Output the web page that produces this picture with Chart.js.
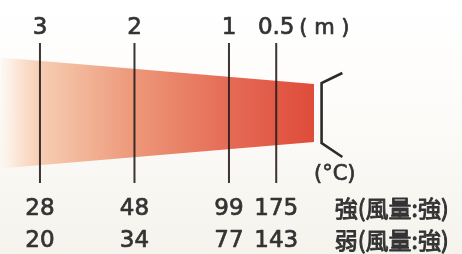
<!DOCTYPE html>
<html>
<head>
<meta charset="utf-8">
<script src="https://cdn.jsdelivr.net/npm/chart.js@4.4.0/dist/chart.umd.min.js"></script>
<style>
  html, body { margin: 0; padding: 0; background: #ffffff; }
  #wrap { width: 462px; height: 254px; position: relative; }
</style>
</head>
<body>
<div id="wrap"><canvas id="c" width="462" height="254"></canvas></div>
<script>
// ---- data (distance from heater in metres, heights in arbitrary diagram units) ----
const distances = [3, 2, 1, 0.5];
const distanceLabels = ['3', '2', '1', '0.5'];
const distanceUnit = '( m )';
const tempStrong = [28, 48, 99, 175];
const tempWeak = [20, 34, 77, 143];
const tempUnit = '(°C)';
const rowLabels = ['強(風量:強)', '弱(風量:強)'];

// heat beam: distance and half-width at each end
const beamDist = [3.42, 0.1];
const beamHalfWidth = [55.5, 29];
// marker line half-height
const markerHalf = 70;
// heater bracket outline
const heaterDist = [-0.2, 0.02, 0.02, -0.2];
const heaterHeight = [40, 30, -30, -44];

const textColor = '#333333';
const numFont = '23px "DejaVu Sans", sans-serif';
const cjkFont = '23px "Noto Sans CJK JP", sans-serif';

const beamTop = beamDist.map((d, i) => ({ x: d, y: beamHalfWidth[i] }));
const beamBottom = beamDist.map((d, i) => ({ x: d, y: -beamHalfWidth[i] }));

function beamGradient(ctx) {
  const chart = ctx.chart;
  const xs = chart.scales.x;
  if (!chart.chartArea || !xs) return 'rgba(230,100,80,0.8)';
  const x0 = xs.getPixelForValue(beamDist[0]);
  const x1 = xs.getPixelForValue(beamDist[1]);
  const g = chart.ctx.createLinearGradient(x0, 0, x1, 0);
  g.addColorStop(0, 'rgba(253,244,236,0.5)');
  g.addColorStop(0.06, '#fbe3d3');
  g.addColorStop(0.13, '#f6cdb3');
  g.addColorStop(0.43, '#ed9778');
  g.addColorStop(0.73, '#e56b56');
  g.addColorStop(1, '#df4c3a');
  return g;
}

const datasets = [
  { data: beamTop, borderWidth: 0, pointRadius: 0, fill: '+1', backgroundColor: beamGradient, order: 10 },
  { data: beamBottom, borderWidth: 0, pointRadius: 0, fill: false, order: 11 },
];
distances.forEach(d => {
  datasets.push({
    data: [{ x: d, y: markerHalf }, { x: d, y: -markerHalf }],
    borderColor: 'rgba(40,30,30,0.9)', borderWidth: 2, pointRadius: 0, fill: false, order: 1
  });
});
datasets.push({
  data: heaterDist.map((d, i) => ({ x: d, y: heaterHeight[i] })),
  borderColor: '#2b2b2b', borderWidth: 2.6, pointRadius: 0, fill: false, order: 1,
  borderJoinStyle: 'miter'
});

const bgPlugin = {
  id: 'bg',
  beforeDraw(chart) {
    const c = chart.ctx;
    const g = c.createLinearGradient(0, 0, 0, chart.height);
    g.addColorStop(0, '#ffffff');
    g.addColorStop(0.4, '#fdfcfa');
    g.addColorStop(1, '#f5f3ec');
    c.save();
    c.fillStyle = g;
    c.fillRect(0, 0, chart.width, chart.height);
    c.restore();
  }
};

function boldText(c, txt, x, y) {
  c.fillText(txt, x, y);
  c.strokeText(txt, x, y);
}

const labelPlugin = {
  id: 'labels',
  afterDraw(chart) {
    const c = chart.ctx;
    const xs = chart.scales.x, ys = chart.scales.y;
    c.save();
    c.fillStyle = textColor;
    c.strokeStyle = textColor;
    c.lineWidth = 0.7;
    c.lineJoin = 'round';
    c.textBaseline = 'alphabetic';
    c.font = numFont;
    c.textAlign = 'center';
    const yTop = ys.getPixelForValue(79);
    const yRow1 = ys.getPixelForValue(-102);
    const yRow2 = ys.getPixelForValue(-134);
    distances.forEach((d, i) => {
      const px = xs.getPixelForValue(d);
      boldText(c, distanceLabels[i], px, yTop);
      boldText(c, String(tempStrong[i]), px, yRow1);
      boldText(c, String(tempWeak[i]), px, yRow2);
    });
    c.textAlign = 'left';
    c.font = '21px "DejaVu Sans", sans-serif';
    boldText(c, distanceUnit, xs.getPixelForValue(0.255), yTop);
    c.font = '21px "DejaVu Sans", sans-serif';
    boldText(c, tempUnit, xs.getPixelForValue(0.1), ys.getPixelForValue(-67));
    c.font = cjkFont;
    c.lineWidth = 0.9;
    boldText(c, rowLabels[0], xs.getPixelForValue(-0.12), yRow1 + 2);
    boldText(c, rowLabels[1], xs.getPixelForValue(-0.12), yRow2 + 2);
    c.restore();
  }
};

new Chart(document.getElementById('c'), {
  type: 'line',
  data: { datasets },
  options: {
    responsive: false,
    animation: false,
    devicePixelRatio: 1,
    layout: { padding: 0 },
    plugins: { legend: { display: false }, tooltip: { enabled: false } },
    elements: { line: { tension: 0 } },
    scales: {
      x: { type: 'linear', reverse: true, min: -1.466, max: 3.423, display: false },
      y: { type: 'linear', min: -141, max: 113, display: false }
    }
  },
  plugins: [bgPlugin, labelPlugin]
});
</script>
</body>
</html>
